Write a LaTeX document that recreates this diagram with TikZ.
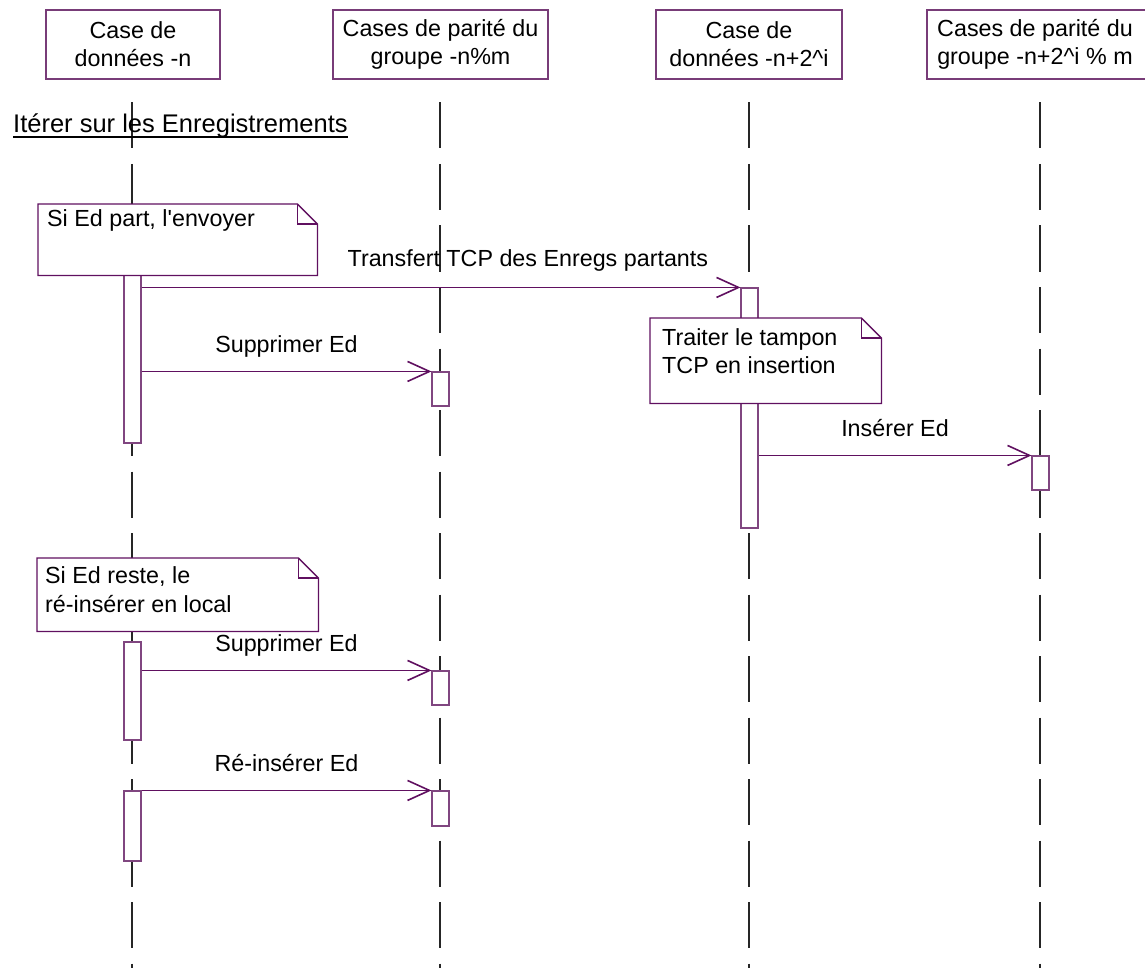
\documentclass[tikz,border=0pt]{standalone}
\usepackage{fontspec}
\setmainfont{Liberation Sans}[Ligatures=TeXOff]
\usetikzlibrary{arrows.meta}
\definecolor{umlpurple}{RGB}{96,16,96}
\definecolor{hdrpurple}{RGB}{120,60,120}
\definecolor{barpurple}{RGB}{128,70,128}

\begin{document}
\begin{tikzpicture}[x=1pt,y=-1pt,
  font=\fontsize{23.3}{28}\selectfont,
  header/.style={draw=hdrpurple, line width=1.2pt, fill=white, inner sep=0pt,
    align=center, minimum height=69pt},
  lifeline/.style={draw=black!85, line width=1.1pt, dash pattern=on 46pt off 15.5pt},
  actbar/.style={draw=barpurple, line width=1.1pt, fill=white, inner sep=0pt,
    minimum width=17pt},
  notebox/.style={fill=white, inner sep=0pt, anchor=north west},
  noteline/.style={draw=umlpurple, line width=1.3pt},
  notetext/.style={anchor=base west, inner sep=0pt},
  msg/.style={draw=umlpurple, line width=1.4pt,
    -{Straight Barb[length=22pt,width=20pt,line width=1.6pt]}},
  lbl/.style={anchor=base, inner sep=0pt, text=black},
]
\useasboundingbox (0,0) rectangle (1145,968);
\clip (0,0) rectangle (1145,968);

% lifelines
\coordinate (l1t) at (132,102.5);   \coordinate (l1b) at (132,980);
\coordinate (l2t) at (440,102.5);   \coordinate (l2b) at (440,980);
\coordinate (l3t) at (749,102.5);   \coordinate (l3b) at (749,980);
\coordinate (l4t) at (1040,102.5);  \coordinate (l4b) at (1040,980);
\foreach \k in {1,...,4} \draw[lifeline] (l\k t) -- (l\k b);

% object headers
\node[header, minimum width=174pt] (h1) at (133,44.5) {Case de\\données -n};
\node[header, minimum width=215pt] (h2) at (440.5,44.5) {Cases de parité du\\groupe -n\%m};
\node[header, minimum width=186pt] (h3) at (749,44.5) {Case de\\données -n+2\^{}i};
\node[header, minimum width=226pt] (h4) at (1040,44.5)
  {Cases de parité du\hspace*{10pt}\\groupe -n+2\^{}i \% m\hspace*{10pt}};

% loop title
\node[anchor=base west, inner sep=0pt, font=\fontsize{25.5}{30}\selectfont] (title) at (13,133)
  {Itérer sur les Enregistrements};
\draw[line width=1.3pt] ([yshift=-4pt]title.base west) -- ([yshift=-4pt]title.base east);

% activation bars
\node[actbar, minimum height=168pt] (b1) at (132.5,359) {};
\node[actbar, minimum height=34pt]  (b2) at (440.5,389) {};
\node[actbar, minimum height=240pt] (b3) at (749.5,408) {};
\node[actbar, minimum height=34pt]  (b4) at (1040.5,473) {};
\node[actbar, minimum height=98pt]  (b5) at (132.5,691) {};
\node[actbar, minimum height=34pt]  (b6) at (440.5,688) {};
\node[actbar, minimum height=70pt]  (b7) at (132.5,826) {};
\node[actbar, minimum height=35pt]  (b8) at (440.5,808.5) {};

% notes with folded corner
\node[notebox, minimum width=279pt, minimum height=71pt] (n1) at (38,204) {};
\node[notebox, minimum width=231pt, minimum height=85pt] (n2) at (650,318) {};
\node[notebox, minimum width=281pt, minimum height=73pt] (n3) at (37,558) {};
\foreach \n in {n1,n2,n3} {
  \draw[noteline] (\n.north west) -- ([xshift=-20pt]\n.north east)
    -- ([yshift=-20pt]\n.north east) -- (\n.south east) -- (\n.south west) -- cycle;
  \draw[noteline] ([xshift=-20pt]\n.north east) -- ([shift={(-20pt,-20pt)}]\n.north east)
    -- ([yshift=-20pt]\n.north east);
}
\node[notetext] (n1a) at ([shift={(9pt,-23pt)}]n1.north west) {Si Ed part, l'envoyer};
\node[notetext] (n2a) at ([shift={(12pt,-27pt)}]n2.north west) {Traiter le tampon};
\node[notetext] (n2b) at ([shift={(12pt,-55pt)}]n2.north west) {TCP en insertion};
\node[notetext] (n3a) at ([shift={(8pt,-25pt)}]n3.north west) {Si Ed reste, le};
\node[notetext] (n3b) at ([shift={(8pt,-54pt)}]n3.north west) {ré-insérer en local};

% messages
\draw[msg] (b1.east |- b3.north west) -- (b3.north west)
  node[lbl, pos=0.645, yshift=21pt] {Transfert TCP des Enregs partants};
\draw[msg] (b1.east |- b2.north west) -- (b2.north west)
  node[lbl, midway, yshift=19pt] {Supprimer Ed};
\draw[msg] (b3.east |- b4.north west) -- (b4.north west)
  node[lbl, midway, yshift=19pt] {Insérer Ed};
\draw[msg] (b5.east |- b6.north west) -- (b6.north west)
  node[lbl, midway, yshift=19pt] {Supprimer Ed};
\draw[msg] (b7.north east) -- (b8.north west)
  node[lbl, midway, yshift=19pt] {Ré-insérer Ed};
\end{tikzpicture}
\end{document}
